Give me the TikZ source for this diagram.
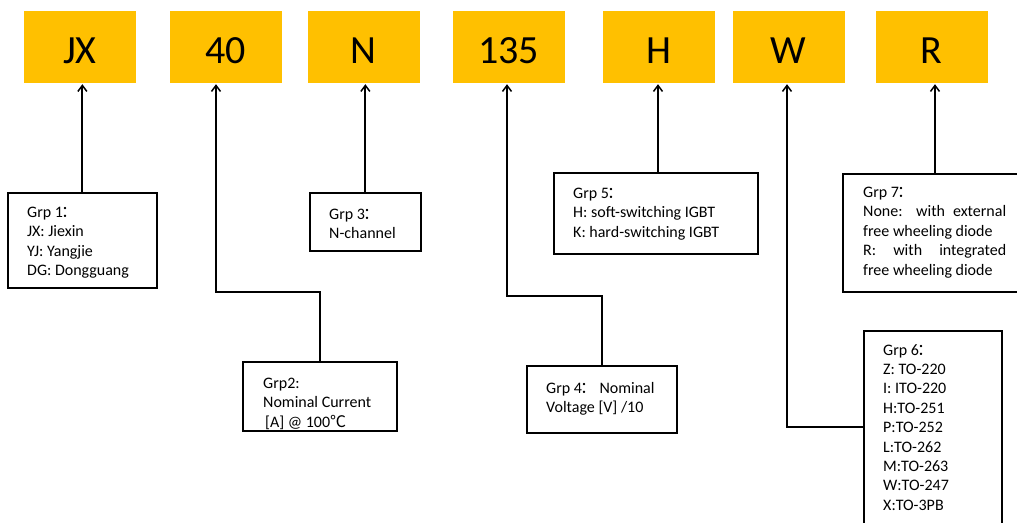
\documentclass[tikz,border=0pt]{standalone}
\usepackage{fontspec}
\setmainfont{Carlito}
\newfontfamily\cjk{Noto Sans CJK SC}
\newcommand{\fwcolon}{\kern-2pt{\cjk ：}}
\usetikzlibrary{arrows.meta,calc}
\definecolor{codeyellow}{HTML}{FFC000}
\begin{document}
\begin{tikzpicture}[x=1pt,y=-1pt,
  code/.style={fill=codeyellow, minimum width=112pt, minimum height=72pt, inner sep=0pt,
    text height=32pt, text depth=0pt, font=\fontsize{40}{48}\selectfont},
  grp/.style={draw, line width=1.7pt, anchor=north west, inner sep=0pt},
  txt/.style={anchor=north west, inner sep=0pt, align=left, font=\fontsize{16}{19.4}\selectfont},
  conn/.style={line width=1.8pt},
  arr/.style={conn, -{Straight Barb[length=6pt,width=9pt,line width=1.5pt]}, shorten >=1pt}]
\useasboundingbox (0,0) rectangle (1017,522);

% code boxes
\node[code] (nJX)  at (80,47)    {JX};
\node[code] (n40)  at (225.5,47) {40};
\node[code] (nN)   at (363.5,47) {N};
\node[code] (n135) at (508.5,47) {135};
\node[code] (nH)   at (659,47)   {H};
\node[code] (nW)   at (788.5,47) {W};
\node[code] (nR)   at (931.5,47) {R};

% group boxes
\node[grp, minimum width=149pt, minimum height=95pt]  (b1) at (7,192)   {};
\node[grp, minimum width=154pt, minimum height=69pt]  (b2) at (242,361) {};
\node[grp, minimum width=111pt, minimum height=58pt]  (b3) at (309,192) {};
\node[grp, minimum width=150pt, minimum height=67pt]  (b4) at (526,365) {};
\node[grp, minimum width=204pt, minimum height=81pt]  (b5) at (553,172) {};
\node[grp, minimum width=138pt, minimum height=200pt] (b6) at (863,330) {};
\node[grp, minimum width=182pt, minimum height=118pt] (b7) at (842,173) {};

% texts
\node[txt] (t1) at ($(b1.north west)+(20,15)$)
  {Grp 1\fwcolon\\JX: Jiexin\\YJ: Yangjie\\DG: Dongguang};
\node[txt] (t2) at ($(b2.north west)+(21,17)$)
  {Grp2:\\Nominal Current\\\hspace*{2pt}[A] @ 100{\cjk ℃}};
\node[txt] (t3) at ($(b3.north west)+(20,17)$)
  {Grp 3\fwcolon\\N-channel};
\node[txt] (t4) at ($(b4.north west)+(20,17)$)
  {Grp 4\fwcolon\ Nominal\\Voltage [V] /10};
\node[txt] (t5) at ($(b5.north west)+(20,16)$)
  {Grp 5\fwcolon\\H: soft-switching IGBT\\K: hard-switching IGBT};
\node[txt] (t6) at ($(b6.north west)+(20,14)$)
  {Grp 6\fwcolon\\Z: TO-220\\I: ITO-220\\H:TO-251\\P:TO-252\\L:TO-262\\M:TO-263\\W:TO-247\\X:TO-3PB};
\node[txt] (t7) at ($(b7.north west)+(21,14)$)
  {Grp 7\fwcolon\\\makebox[143pt][s]{None: with external}\\free wheeling diode\\\makebox[143pt][s]{R: with integrated}\\free wheeling diode};

% bend / column coordinates
\coordinate (c2) at (216,292);
\coordinate (c4) at (507,296);
\coordinate (c6) at (787,427);
\coordinate (cH) at (658,0);
\coordinate (cR) at (935,0);

% connectors
\draw[arr] (b1.north) -- (b1.north |- nJX.south);
\draw[arr] (b2.north) |- (c2) -- (c2 |- n40.south);
\draw[arr] (b3.north) -- (b3.north |- nN.south);
\draw[arr] (b4.north) |- (c4) -- (c4 |- n135.south);
\draw[arr] (cH |- b5.north) -- (cH |- nH.south);
\draw[arr] (b6.west |- c6) -- (c6) -- (c6 |- nW.south);
\draw[arr] (cR |- b7.north) -- (cR |- nR.south);
\end{tikzpicture}
\end{document}
